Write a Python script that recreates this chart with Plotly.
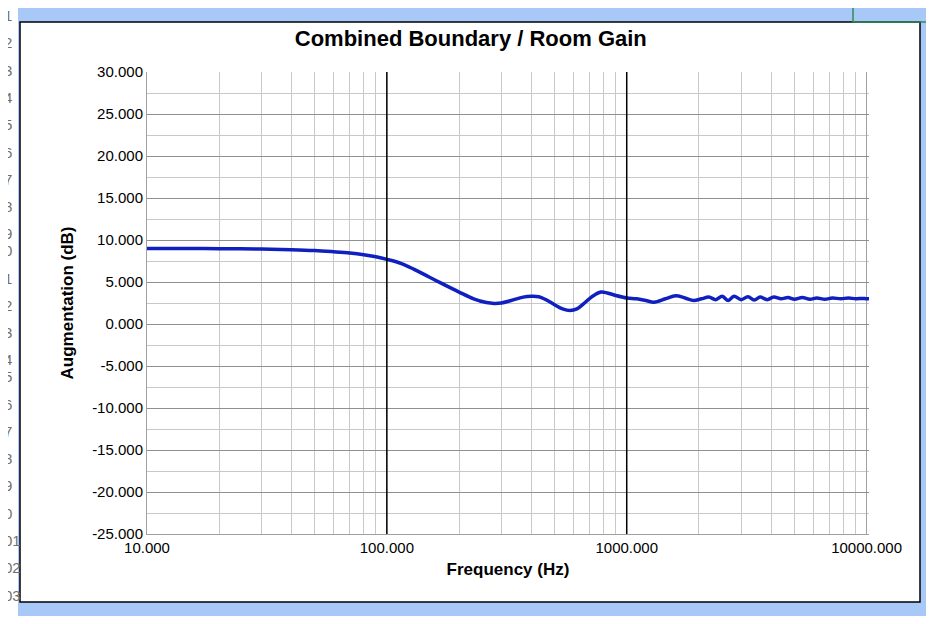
import plotly.graph_objects as go

# valors llegits del gràfic
freq = [10, 15, 20, 30, 40, 50, 60, 70, 80, 90, 100, 115, 130, 150, 170, 200, 230, 260, 280, 300,
        330, 370, 400, 430, 460, 500, 540, 580, 620, 660, 720, 780, 830, 900, 1000, 1100, 1200,
        1300, 1450, 1600, 1750, 1900, 2050, 2200, 2350, 2500, 2650, 2800, 3000, 3200, 3400, 3600,
        3850, 4100, 4400, 4700, 5000, 5400, 5800, 6200, 6700, 7200, 7800, 8400, 9000, 9600, 10000,
        11000]
gain = [9.0, 9.0, 8.97, 8.92, 8.85, 8.75, 8.6, 8.45, 8.25, 8.0, 7.7, 7.2, 6.5, 5.6, 4.8, 3.8, 3.0, 2.55,
        2.45, 2.5, 2.8, 3.2, 3.3, 3.25, 2.9, 2.3, 1.8, 1.6, 1.8, 2.4, 3.3, 3.8, 3.7, 3.4, 3.1, 3.0, 2.8,
        2.6, 3.0, 3.35, 3.1, 2.8, 3.0, 3.2, 2.9, 3.3, 2.8, 3.3, 2.9, 3.25, 2.85, 3.2, 2.9, 3.2, 3.0,
        3.15, 2.95, 3.15, 2.95, 3.1, 2.95, 3.1, 3.0, 3.1, 3.0, 3.05, 3.0, 3.0]
y_ticks = [30, 25, 20, 15, 10, 5, 0, -5, -10, -15, -20, -25]
row_labels = ["1", "2", "3", "4", "5", "6", "7", "8", "9", "0", "1", "2", "3", "4", "5",
              "6", "7", "8", "9", "0", "01", "02", "03"]

OFF = 8  # marge del body de la pàgina
W, H = 934 - 2 * OFF, 624 - 2 * OFF
L, R, T, B = 147 - OFF, 57, 72 - OFF, 82
pw, ph = W - L - R, H - T - B

def px(x):
    return (x - OFF - L) / pw

def py(y):
    return (H - B - (y - OFF)) / ph

fig = go.Figure()
fig.add_trace(go.Scatter(x=freq, y=gain, mode="lines", line=dict(color="#1020c0", width=3.5),
                         line_shape="spline", showlegend=False))

shapes = [
    dict(type="rect", xref="paper", yref="paper", x0=px(-10), x1=px(18), y0=py(-10), y1=py(640),
         fillcolor="white", line=dict(width=0), layer="below"),
    dict(type="rect", xref="paper", yref="paper", x0=px(20), x1=px(920), y0=py(22), y1=py(602),
         fillcolor="white", line=dict(color="black", width=1.5), layer="below"),
    dict(type="rect", xref="paper", yref="paper", x0=px(853), x1=px(945), y0=py(-10), y1=py(22),
         line=dict(color="#2e8b57", width=1.5)),
    dict(type="line", xref="x", yref="paper", x0=100, x1=100, y0=0, y1=1, line=dict(color="black", width=1.5)),
    dict(type="line", xref="x", yref="paper", x0=1000, x1=1000, y0=0, y1=1, line=dict(color="black", width=1.5)),
]
annotations = []
for i, lab in enumerate(row_labels):
    yy = 5 + i * 27.3
    if yy > 620:
        break
    annotations.append(dict(text=lab, xref="paper", yref="paper", x=px(2), xanchor="left", y=py(yy),
                            showarrow=False, font=dict(size=15, color="#707070")))

fig.update_layout(
    width=W, height=H,
    margin=dict(l=L, r=R, t=T, b=B),
    paper_bgcolor="#a8c8f8", plot_bgcolor="white",
    font=dict(family="Liberation Sans, Arial", size=15, color="black"),
    title=dict(text="<b>Combined Boundary / Room Gain</b>", x=px(511), xanchor="center",
               y=py(38) * ph / H + B / H, yanchor="middle", font=dict(size=22)),
    shapes=shapes, annotations=annotations,
    xaxis=dict(type="log", range=[1, 4.01],
               tickvals=[10, 100, 1000, 10000], ticktext=["10.000", "100.000", "1000.000", "10000.000"],
               showgrid=True, gridcolor="#a0a0a0", ticks="", showline=True, linecolor="#a0a0a0",
               minor=dict(dtick="D1", showgrid=True, gridcolor="#c8c8c8"),
               title=dict(text="<b>Frequency (Hz)</b>", standoff=8, font=dict(size=17)),
               zeroline=False),
    yaxis=dict(range=[-25, 30], tickvals=y_ticks, ticktext=[f"{v:.3f}" for v in y_ticks],
               showgrid=True, gridcolor="#909090",
               minor=dict(dtick=2.5, showgrid=True, gridcolor="#c8c8c8"),
               showline=True, linecolor="#a0a0a0", ticks="", zeroline=False,
               title=dict(text="<b>Augmentation (dB)</b>", standoff=14, font=dict(size=17))),
)

fig.write_html("out.html")
